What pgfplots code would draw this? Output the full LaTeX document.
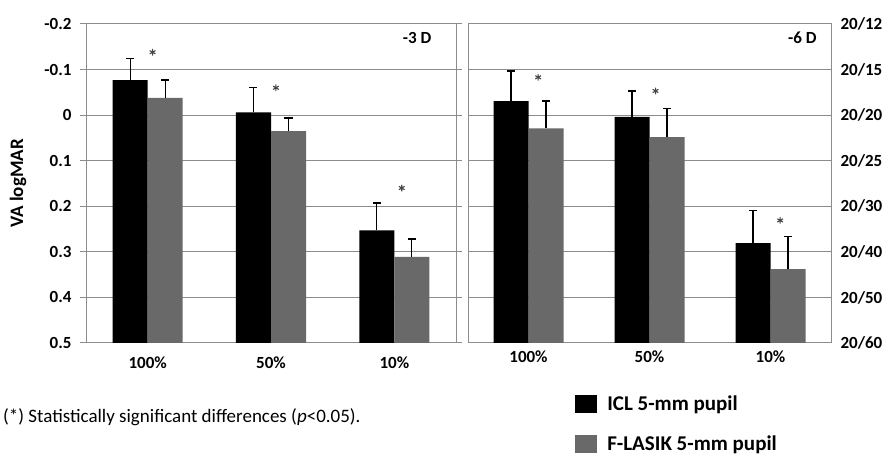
\documentclass[border=0pt]{standalone}
\usepackage{pgfplots}
\pgfplotsset{compat=1.18}
\usepackage{pgfplotstable}
\usepackage{fontspec}
\setmainfont{Carlito}
\definecolor{gridgray}{RGB}{140,140,140}
\definecolor{bargray}{RGB}{105,105,105}
\definecolor{stargray}{RGB}{70,70,70}

% values in logMAR; err = length of the upper error bar
\pgfplotstableread{
x icl iclerr lasik lasikerr
0 -0.077 0.047 -0.038 0.039
1 -0.006 0.055 0.035 0.029
2 0.253 0.060 0.311 0.039
}\threeD
\pgfplotstableread{
x icl iclerr lasik lasikerr
0 -0.031 0.066 0.029 0.060
1 0.004 0.057 0.048 0.063
2 0.281 0.071 0.338 0.071
}\sixD
\pgfplotstableread{
x y
0.04 -0.138
1.04 -0.060
2.06 0.160
}\starsA
\pgfplotstableread{
x y
0.08 -0.083
1.05 -0.053
2.08 0.231
}\starsB

\pgfplotsset{
  panel/.style={
    scale only axis, height=319pt,
    xmin=-0.5, xmax=2.5, ymin=0, ymax=0.7,
    xtick={0,1,2}, xticklabels={100\%,50\%,10\%},
    ytick={0,0.1,0.2,0.3,0.4,0.5,0.6,0.7},
    ymajorgrids, grid style={gridgray, line width=1pt},
    axis line style={gridgray, line width=1pt},
    major x tick style={draw=none},
    tick label style={font=\fontsize{17}{19}\selectfont\bfseries},
    xticklabel style={yshift=-4pt},
    /pgf/number format/assume math mode=true,
  },
  barA/.style={/pgfplots/ybar, /pgfplots/bar width=35pt, /pgfplots/bar shift=-17.5pt, fill=black, draw=none,
    /pgfplots/legend image code/.code={\fill[black] (0pt,-9pt) rectangle (22pt,9pt);},
    /pgfplots/error bars/.cd, y dir=plus, y explicit,
    error bar style={black, line width=1.3pt},
    error mark options={black, line width=1.3pt, mark size=4pt, rotate=90}},
  barB/.style={/pgfplots/ybar, /pgfplots/bar width=35pt, /pgfplots/bar shift=17.5pt, fill=bargray, draw=none,
    /pgfplots/legend image code/.code={\fill[bargray] (0pt,-9pt) rectangle (22pt,9pt);},
    /pgfplots/error bars/.cd, y dir=plus, y explicit,
    error bar style={black, line width=1.3pt},
    error mark options={black, line width=1.3pt, mark size=4pt, rotate=90}},
}

\begin{document}
\begin{tikzpicture}[x=1pt,y=1pt]
\useasboundingbox (0,0) rectangle (884,454);

\begin{axis}[panel, at={(86pt,111pt)}, anchor=south west, width=370pt,
  yticklabels={0.5,0.4,0.3,0.2,0.1,0,-0.1,-0.2},
  tick align=outside, major tick length=6pt,
  major y tick style={gridgray, line width=1pt},
  yticklabel style={xshift=-5pt},
  ylabel={VA logMAR},
  every axis y label/.style={at={(rel axis cs:0,0.5)}, xshift=-68pt, rotate=90, anchor=center,
    font=\fontsize{19}{22}\selectfont\bfseries},
]
\addplot[barA] table[x=x, y expr=0.5-\thisrow{icl}, y error=iclerr] {\threeD};
\addplot[barB] table[x=x, y expr=0.5-\thisrow{lasik}, y error=lasikerr] {\threeD};
\addplot[only marks, mark=asterisk, mark size=3.3pt, line width=1.1pt, stargray] table[x=x, y expr=0.5-\thisrow{y}] {\starsA};
\node[anchor=east, font=\fontsize{17}{19}\selectfont\bfseries] at (rel axis cs:0.943,0.956) {-3 D};
\end{axis}

\begin{axis}[panel, at={(468pt,111pt)}, anchor=south west, width=363pt,
  yticklabel pos=right,
  yticklabels={20/60,20/50,20/40,20/30,20/25,20/20,20/15,20/12},
  major y tick style={draw=none},
  yticklabel style={anchor=west, xshift=6pt},
  legend style={at={(rel axis cs:0.295,-0.16)}, anchor=north west, draw=none, fill=none,
    font=\fontsize{21}{24}\selectfont\bfseries, row sep=19pt, inner sep=0pt,
    /tikz/every odd column/.append style={column sep=8pt}},
  legend cell align=left,
]
\addplot[barA] table[x=x, y expr=0.5-\thisrow{icl}, y error=iclerr] {\sixD};
\addlegendentry{ICL 5-mm pupil}
\addplot[barB] table[x=x, y expr=0.5-\thisrow{lasik}, y error=lasikerr] {\sixD};
\addlegendentry{F-LASIK 5-mm pupil}
\addplot[only marks, mark=asterisk, mark size=3.3pt, line width=1.1pt, stargray, forget plot] table[x=x, y expr=0.5-\thisrow{y}] {\starsB};
\node[anchor=east, font=\fontsize{17}{19}\selectfont\bfseries] at (rel axis cs:0.97,0.956) {-6 D};
\end{axis}

\node[anchor=west, font=\fontsize{19}{22}\selectfont, inner sep=0pt] at (3,37)
  {(*) Statistically significant differences (\textit{p}<0.05).};
\end{tikzpicture}
\end{document}
